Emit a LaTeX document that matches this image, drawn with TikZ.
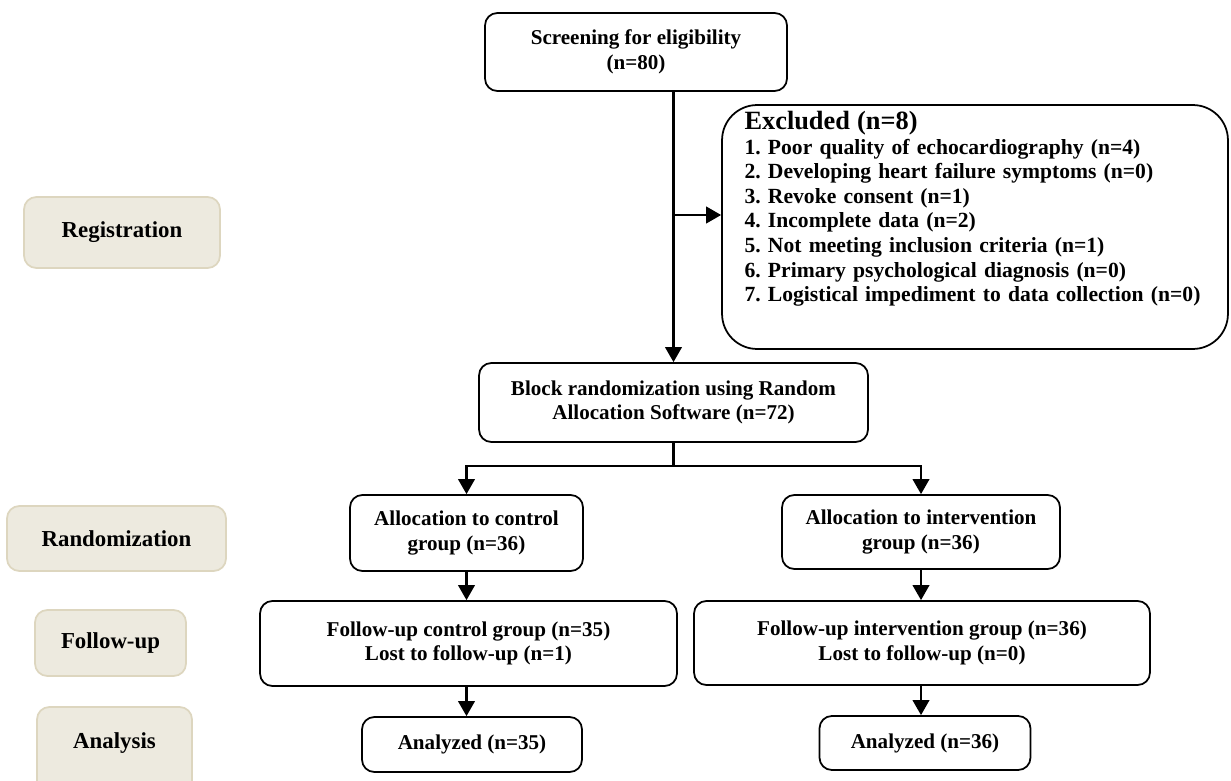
\documentclass[tikz,border=0pt]{standalone}
\usepackage{fontspec}
\setmainfont{Liberation Serif}
\usepackage{tikz}
\usetikzlibrary{arrows.meta,positioning,calc}
\frenchspacing
\definecolor{stagefill}{HTML}{EDEADF}
\definecolor{stageline}{HTML}{DDD6BF}
\tikzset{
  flow/.style={rectangle, rounded corners=7pt, draw=black, line width=1pt, fill=white,
               align=center, inner sep=2pt, font=\bfseries\fontsize{12}{14}\selectfont},
  exbox/.style={flow, rounded corners=20pt, align=left, text width=9.22cm,
                inner xsep=0.45cm, inner ysep=0.16cm, text height=0.33cm, text depth=4.23cm,
                font=\bfseries\fontsize{12.3}{14}\selectfont},
  stage/.style={rectangle, rounded corners=7pt, draw=stageline, line width=1pt, fill=stagefill,
                align=center, font=\bfseries\fontsize{13}{15}\selectfont},
  arr/.style={-{Triangle[length=3mm,width=3.3mm]}, line width=1.3pt},
  ln/.style={line width=1.3pt}
}

\begin{document}
\begin{tikzpicture}[x=0.02cm, y=-0.02cm]
  \useasboundingbox (0,0) rectangle (1231,781);
  \clip (0,0) rectangle (1231,781);
  % stages
  \node[stage, minimum width=3.92cm, minimum height=1.42cm] (reg) at (122,232.5) {Registration};
  \node[stage, minimum width=4.38cm, minimum height=1.3cm] (rand) at (116.5,538.5) {Randomization};
  \node[stage, minimum width=3.02cm, minimum height=1.32cm] (fup) at (110.5,643) {Follow-up};
  \node[stage, minimum width=3.1cm, minimum height=1.76cm, text depth=0.43cm] (ana) at (114.5,751) {Analysis};

  % flow
  \node[flow, minimum width=6.04cm, minimum height=1.56cm] (screen) at (636,52) {Screening for eligibility\\(n=80)};
  \node[exbox] (excl) at (975,227) {{\fontsize{15}{14}\selectfont Excluded (n=8)}\\
    1. Poor quality of echocardiography (n=4)\\
    2. Developing heart failure symptoms (n=0)\\
    3. Revoke consent (n=1)\\
    4. Incomplete data (n=2)\\
    5. Not meeting inclusion criteria (n=1)\\
    6. Primary psychological diagnosis (n=0)\\
    7. Logistical impediment to data collection (n=0)};
  \node[flow, minimum width=7.78cm, minimum height=1.58cm] (block) at (673.5,402.5) {Block randomization using Random\\Allocation Software (n=72)};
  \node[flow, minimum width=4.66cm, minimum height=1.52cm] (ctl) at (466.5,533) {Allocation to control\\group (n=36)};
  \node[flow, minimum width=5.56cm, minimum height=1.48cm] (itv) at (921,532) {Allocation to intervention\\group (n=36)};
  \node[flow, minimum width=8.34cm, minimum height=1.7cm] (fuc) at (468.5,643.5) {Follow-up control group (n=35)\\Lost to follow-up (n=1)};
  \node[flow, minimum width=9.12cm, minimum height=1.68cm] (fui) at (922,643) {Follow-up intervention group (n=36)\\Lost to follow-up (n=0)};
  \node[flow, minimum width=4.4cm, minimum height=1.1cm] (anc) at (472,744.5) {Analyzed (n=35)};
  \node[flow, minimum width=4.22cm, minimum height=1.08cm] (ani) at (925,743) {Analyzed (n=36)};

  \coordinate (side) at ($(excl.west)+(0,-12)$);
  \coordinate (split) at ($(block.south)+(0,23)$);

  \draw[arr] (screen.south -| block.north) -- (block.north);
  \draw[arr] (side -| block.north) -- (side);
  \draw[ln] (block.south) -- (split);
  \draw[arr] (split) -| (ctl.north);
  \draw[arr] (split) -| (itv.north);
  \draw[arr] (ctl.south) -- (ctl.south |- fuc.north);
  \draw[arr] (itv.south) -- (itv.south |- fui.north);
  \draw[arr] (fuc.south -| ctl.south) -- (ctl.south |- anc.north);
  \draw[arr] (fui.south -| itv.south) -- (itv.south |- ani.north);
\end{tikzpicture}
\end{document}
